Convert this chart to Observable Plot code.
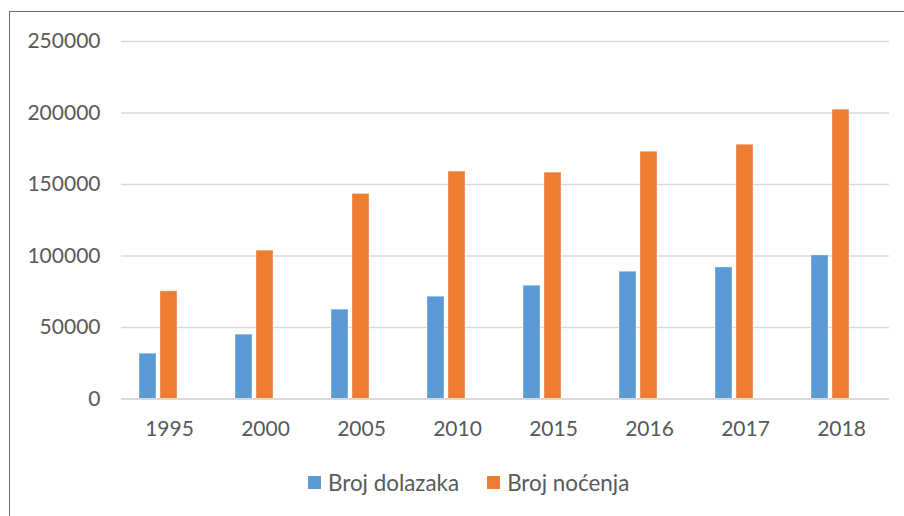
<!DOCTYPE html>
<html>
<head>
<meta charset="utf-8">
<script src="https://cdn.jsdelivr.net/npm/d3@7"></script>
<script src="https://cdn.jsdelivr.net/npm/@observablehq/plot@0.6"></script>
<style>
  html, body { margin: 0; padding: 0; background: #fff; }
  body { width: 904px; height: 516px; position: relative; overflow: hidden; font-family: Lato, "Open Sans", sans-serif; }
  #frame { position: absolute; left: 9px; top: 11px; width: 900px; height: 510px; border-left: 1px solid #6a6a6a; border-top: 1px solid #6a6a6a; }
  #chart { position: absolute; left: 0; top: 0; }
  #legend { position: absolute; left: 308px; top: 469px; display: flex; align-items: center; font-size: 22.4px; color: #595959; white-space: nowrap; }
  .item { display: flex; align-items: center; margin-right: 28px; }
  .sw { width: 13px; height: 13px; margin-right: 7px; }
</style>
</head>
<body>
<div id="frame"></div>
<div id="chart"></div>
<div id="legend"></div>
<script>
const years = ["1995", "2000", "2005", "2010", "2015", "2016", "2017", "2018"];
const seriesNames = ["Broj dolazaka", "Broj noćenja"];
const brojDolazaka = [31700, 45000, 62500, 71500, 79200, 89000, 92000, 100400];
const brojNocenja = [75300, 103700, 143400, 159000, 158300, 172900, 177800, 202300];
const yTicks = [0, 50000, 100000, 150000, 200000, 250000];
const colors = ["#5b9bd5", "#ed7d31"];

const data = [];
years.forEach((yr, i) => {
  data.push({year: yr, series: seriesNames[0], value: brojDolazaka[i]});
  data.push({year: yr, series: seriesNames[1], value: brojNocenja[i]});
});

const chart = Plot.plot({
  width: 904,
  height: 460,
  marginTop: 41,
  marginBottom: 61.5,
  marginLeft: 121,
  marginRight: 15,
  style: {fontFamily: "Lato, 'Open Sans', sans-serif", fontSize: "21px", color: "#595959", background: "transparent"},
  fx: {domain: years, padding: 0, label: null},
  x: {domain: [...seriesNames, "—"], paddingInner: 0.19, paddingOuter: 0.88, axis: null},
  y: {domain: [0, 250000], label: null},
  color: {domain: seriesNames, range: colors},
  marks: [
    Plot.gridY(yTicks, {stroke: "#d9d9d9", strokeOpacity: 1, strokeWidth: 1.4}),
    Plot.axisY(yTicks, {tickSize: 0, tickPadding: 21, tickFormat: d3.format("d"), fill: "#595959", label: null}),
    Plot.axisFx({anchor: "bottom", tickSize: 0, tickPadding: 22, fill: "#595959", label: null}),
    Plot.barY(data, {fx: "year", x: "series", y: "value", fill: "series", stroke: "#ffffff", strokeOpacity: 0.35, strokeWidth: 1}),
    Plot.ruleY([0], {stroke: "#d9d9d9", strokeWidth: 2})
  ]
});
document.getElementById("chart").appendChild(chart);

const legend = document.getElementById("legend");
seriesNames.forEach((name, i) => {
  const item = document.createElement("div");
  item.className = "item";
  const sw = document.createElement("div");
  sw.className = "sw";
  sw.style.background = colors[i];
  const label = document.createElement("span");
  label.textContent = name;
  item.appendChild(sw);
  item.appendChild(label);
  legend.appendChild(item);
});
</script>
</body>
</html>
